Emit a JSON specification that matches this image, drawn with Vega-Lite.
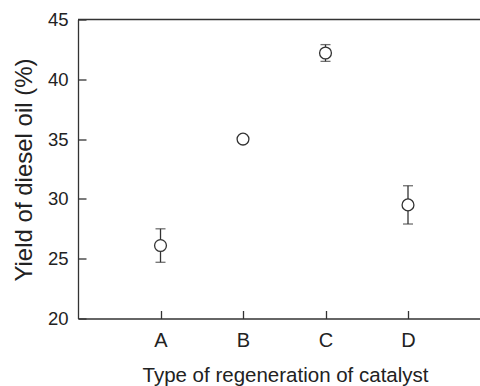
{
  "$schema": "https://vega.github.io/schema/vega-lite/v6.json",
  "width": 402,
  "height": 299,
  "autosize": {"type": "none"},
  "padding": {"left": 78, "top": 19.5, "right": 0, "bottom": 67.5},
  "background": "white",
  "config": {
    "view": {"stroke": null},
    "font": "Liberation Sans",
    "axis": {
      "domainColor": "#333333",
      "domainWidth": 1.3,
      "tickColor": "#333333",
      "tickWidth": 1.3,
      "grid": false,
      "labelFont": "Liberation Sans",
      "titleFont": "Liberation Sans",
      "labelColor": "#222222",
      "titleColor": "#222222",
      "titleFontWeight": "normal"
    }
  },
  "data": {
    "values": [
      {"type": "A", "yield": 26.1, "lo": 24.7, "hi": 27.5},
      {"type": "B", "yield": 35.0, "lo": 34.9, "hi": 35.1},
      {"type": "C", "yield": 42.2, "lo": 41.5, "hi": 42.9},
      {"type": "D", "yield": 29.5, "lo": 27.9, "hi": 31.1}
    ]
  },
  "encoding": {
    "x": {
      "field": "type",
      "type": "nominal",
      "scale": {"type": "point", "padding": 0.9364, "align": 0.534},
      "axis": {
        "title": "Type of regeneration of catalyst",
        "labelAngle": 0,
        "labelFontSize": 20,
        "titleFontSize": 20.5,
        "tickSize": -8,
        "labelPadding": 20,
        "titleX": 207,
        "titleY": 63,
        "titleAnchor": "middle",
        "titleAlign": "center",
        "titleBaseline": "alphabetic"
      }
    }
  },
  "layer": [
    {
      "mark": {"type": "rule", "color": "#333333", "strokeWidth": 1.3},
      "encoding": {
        "y": {
          "field": "lo",
          "type": "quantitative",
          "scale": {"domain": [20, 45], "nice": false, "zero": false},
          "axis": {
            "title": "Yield of diesel oil (%)",
            "values": [20, 25, 30, 35, 40, 45],
            "labelFontSize": 18.5,
            "titleFontSize": 24,
            "tickSize": -8,
            "labelPadding": 18,
            "titleX": -54,
            "titleY": 150,
            "titleAngle": -90,
            "titleAlign": "center",
            "titleBaseline": "middle"
          }
        },
        "y2": {"field": "hi"}
      }
    },
    {
      "mark": {"type": "tick", "color": "#333333", "thickness": 1.3, "size": 10},
      "encoding": {"y": {"field": "lo", "type": "quantitative"}}
    },
    {
      "mark": {"type": "tick", "color": "#333333", "thickness": 1.3, "size": 10},
      "encoding": {"y": {"field": "hi", "type": "quantitative"}}
    },
    {
      "mark": {"type": "point", "shape": "circle", "filled": true, "fill": "white", "stroke": "#333333", "strokeWidth": 1.3, "size": 140, "opacity": 1},
      "encoding": {"y": {"field": "yield", "type": "quantitative"}}
    },
    {
      "data": {"values": [{"top": 45}]},
      "mark": {"type": "rule", "color": "#333333", "strokeWidth": 1.3},
      "encoding": {"x": null, "y": {"field": "top", "type": "quantitative"}}
    }
  ]
}
